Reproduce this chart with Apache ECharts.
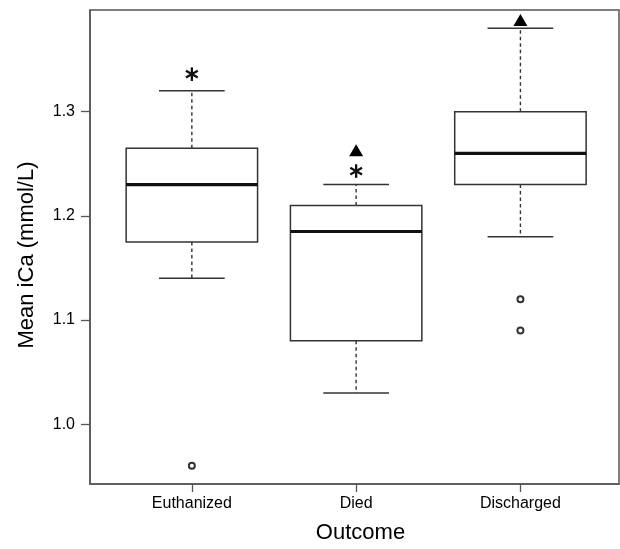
<!DOCTYPE html>
<html>
<head>
<meta charset="utf-8">
<script src="https://cdn.jsdelivr.net/npm/echarts@6/dist/echarts.min.js"></script>
<style>
html,body{margin:0;padding:0;background:#fff;}
#c{width:620px;height:549px;}
</style>
</head>
<body>
<div id="c"></div>
<script>
// ---- data ----
const categories = ['Euthanized', 'Died', 'Discharged'];
const whiskerLow  = [1.14, 1.03, 1.18];
const q1          = [1.175, 1.08, 1.23];
const median      = [1.23, 1.185, 1.26];
const q3          = [1.265, 1.21, 1.30];
const whiskerHigh = [1.32, 1.23, 1.38];
const outliers    = [[1, 0.96], [3, 1.12], [3, 1.09]];
const asterisks   = [[1, 1.336], [2, 1.243]];
const triangles   = [[2, 1.263], [3, 1.388]];
const yTicks      = [1.0, 1.1, 1.2, 1.3];
const xTicks      = [1, 2, 3];

const boxData = categories.map((c, i) => [i + 1, whiskerLow[i], q1[i], median[i], q3[i], whiskerHigh[i]]);

const LINE = '#333';

const chart = echarts.init(document.getElementById('c'), null, {renderer: 'canvas'});
chart.setOption({
  animation: false,
  backgroundColor: '#fff',
  grid: {
    left: 90, top: 10, right: 1, bottom: 63,
    show: true, borderColor: '#555', borderWidth: 1.5, backgroundColor: 'transparent'
  },
  xAxis: {
    type: 'value', min: 0.38, max: 3.6,
    name: 'Outcome', nameLocation: 'middle', nameGap: 38,
    nameTextStyle: {fontFamily: 'Liberation Sans', fontSize: 22, color: '#000', padding: [0, 0, 0, 12]},
    splitLine: {show: false},
    axisLine: {show: true, onZero: false, lineStyle: {color: '#555', width: 1.5}},
    axisTick: {show: true, length: 8, customValues: xTicks, lineStyle: {color: '#555', width: 1.3}},
    axisLabel: {
      customValues: xTicks, margin: 12,
      fontFamily: 'Liberation Sans', fontSize: 16, color: '#000',
      formatter: v => categories[Math.round(v) - 1] || ''
    }
  },
  yAxis: {
    type: 'value', min: 0.9426, max: 1.3976,
    name: 'Mean iCa (mmol/L)', nameLocation: 'middle', nameGap: 52,
    nameTextStyle: {fontFamily: 'Liberation Sans', fontSize: 22, color: '#000', padding: [0, 16, 0, 0]},
    splitLine: {show: false},
    axisLine: {show: true, onZero: false, lineStyle: {color: '#555', width: 1.5}},
    axisTick: {show: true, length: 9, customValues: yTicks, lineStyle: {color: '#555', width: 1.3}},
    axisLabel: {
      customValues: yTicks, margin: 15,
      fontFamily: 'Liberation Sans', fontSize: 16, color: '#000',
      formatter: v => v.toFixed(1)
    }
  },
  series: [
    {
      type: 'custom',
      data: boxData,
      encode: {x: 0, y: [1, 2, 3, 4, 5]},
      renderItem: function (params, api) {
        const x = api.value(0);
        const pLo = api.coord([x, api.value(1)]);
        const pQ1 = api.coord([x, api.value(2)]);
        const pMed = api.coord([x, api.value(3)]);
        const pQ3 = api.coord([x, api.value(4)]);
        const pHi = api.coord([x, api.value(5)]);
        const half = api.size([0.8, 0])[0] / 2;
        const cap = half / 2;
        const cx = pMed[0];
        const solid = {stroke: LINE, lineWidth: 1.5, fill: null};
        const dashed = {stroke: LINE, lineWidth: 1.4, lineDash: [3.5, 3], fill: null};
        return {
          type: 'group',
          children: [
            {type: 'line', shape: {x1: cx, y1: pQ3[1], x2: cx, y2: pHi[1]}, style: dashed},
            {type: 'line', shape: {x1: cx, y1: pQ1[1], x2: cx, y2: pLo[1]}, style: dashed},
            {type: 'line', shape: {x1: cx - cap, y1: pHi[1], x2: cx + cap, y2: pHi[1]}, style: solid},
            {type: 'line', shape: {x1: cx - cap, y1: pLo[1], x2: cx + cap, y2: pLo[1]}, style: solid},
            {type: 'rect', shape: {x: cx - half, y: pQ3[1], width: 2 * half, height: pQ1[1] - pQ3[1]},
              style: {stroke: LINE, lineWidth: 1.5, fill: '#fff'}},
            {type: 'line', shape: {x1: cx - half, y1: pMed[1], x2: cx + half, y2: pMed[1]},
              style: {stroke: '#111', lineWidth: 3.2}}
          ]
        };
      }
    },
    {
      type: 'scatter',
      data: outliers,
      symbol: 'emptyCircle',
      symbolSize: 6,
      itemStyle: {color: LINE, borderColor: LINE, borderWidth: 1.3, opacity: 1},
      z: 5
    },
    {
      type: 'scatter',
      data: triangles,
      symbol: 'triangle',
      symbolSize: [14, 12],
      itemStyle: {color: '#000', opacity: 1},
      z: 5
    },
    {
      type: 'custom',
      data: asterisks,
      encode: {x: 0, y: 1},
      z: 5,
      renderItem: function (params, api) {
        const p = api.coord([api.value(0), api.value(1)]);
        const r = 6.8;
        const st = {stroke: '#111', lineWidth: 2.3};
        const arms = [90, 30, -30].map(a => {
          const rad = a * Math.PI / 180;
          const dx = r * Math.cos(rad), dy = r * Math.sin(rad);
          return {type: 'line', shape: {x1: p[0] - dx, y1: p[1] - dy, x2: p[0] + dx, y2: p[1] + dy}, style: st};
        });
        return {type: 'group', children: arms};
      }
    }
  ]
});
</script>
</body>
</html>
